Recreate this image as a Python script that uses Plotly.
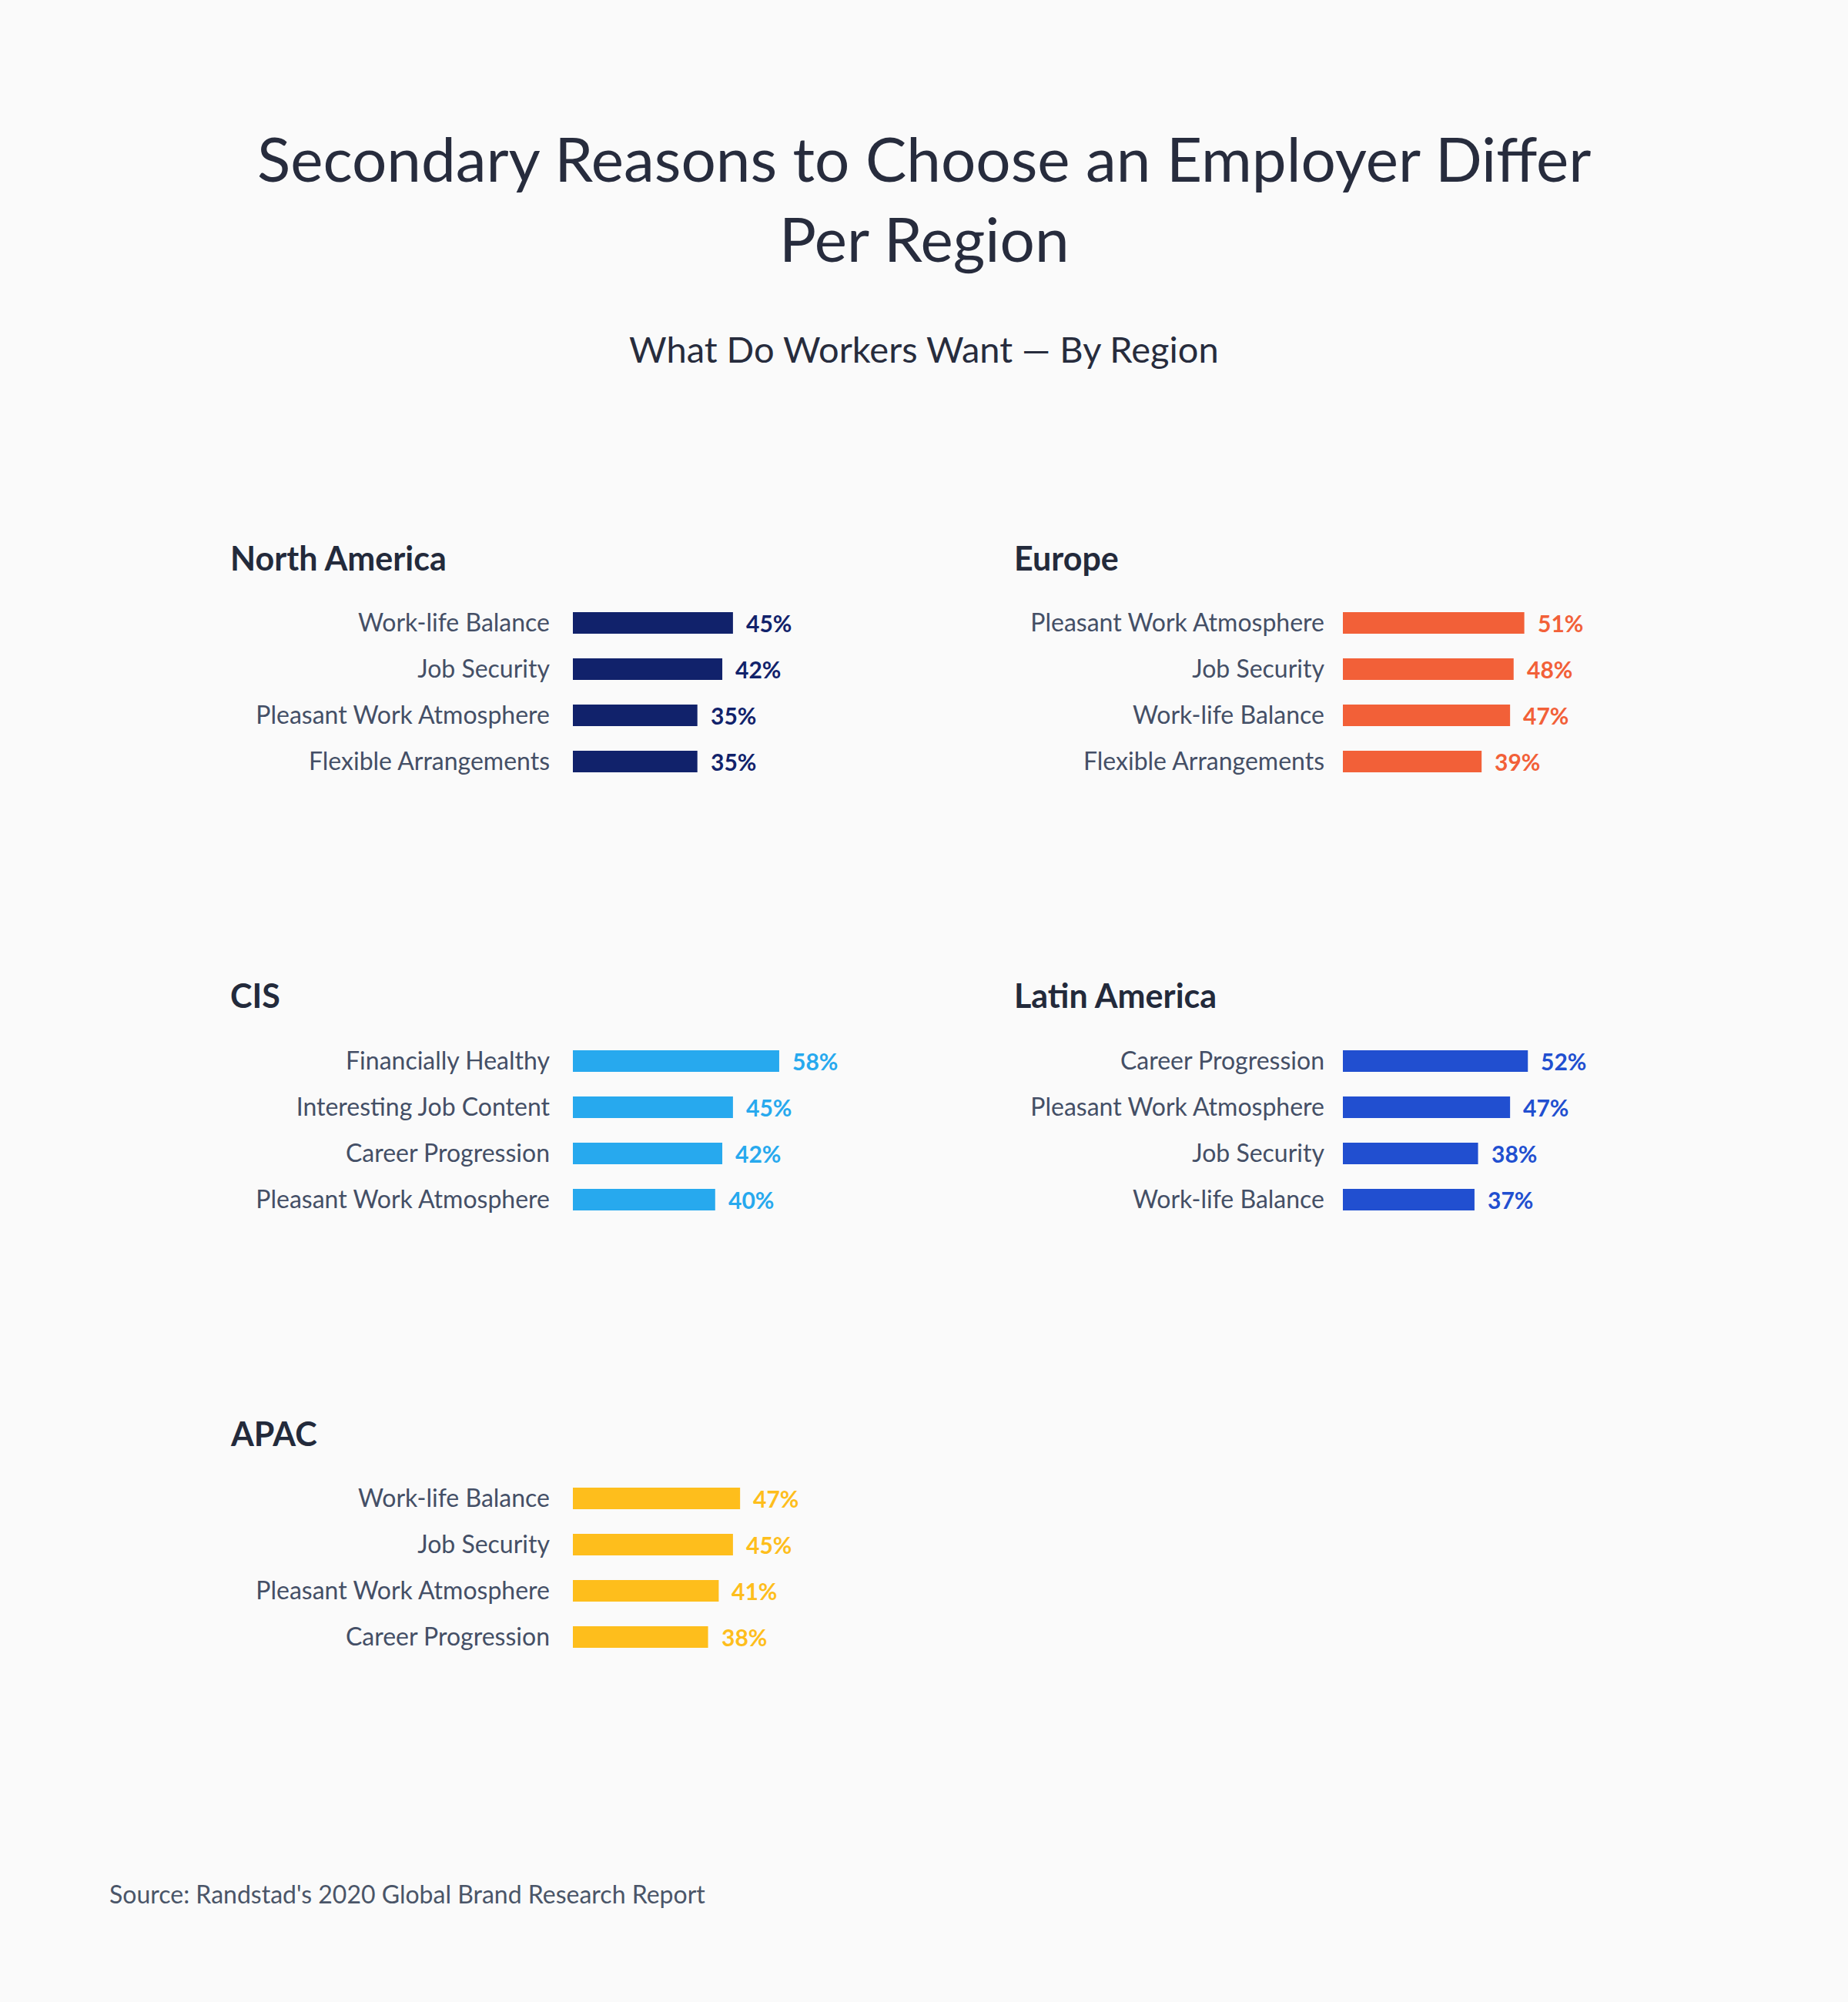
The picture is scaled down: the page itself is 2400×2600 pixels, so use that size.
import plotly.graph_objects as go

# ---------------- data ----------------
regions = ["North America", "Europe", "CIS", "Latin America", "APAC"]

na_labels = ["Work-life Balance", "Job Security", "Pleasant Work Atmosphere", "Flexible Arrangements"]
na_values = [45, 42, 35, 35]

eu_labels = ["Pleasant Work Atmosphere", "Job Security", "Work-life Balance", "Flexible Arrangements"]
eu_values = [51, 48, 47, 39]

cis_labels = ["Financially Healthy", "Interesting Job Content", "Career Progression", "Pleasant Work Atmosphere"]
cis_values = [58, 45, 42, 40]

la_labels = ["Career Progression", "Pleasant Work Atmosphere", "Job Security", "Work-life Balance"]
la_values = [52, 47, 38, 37]

apac_labels = ["Work-life Balance", "Job Security", "Pleasant Work Atmosphere", "Career Progression"]
apac_values = [47, 45, 41, 38]

colors = ["#11226b", "#f26038", "#27a9ee", "#214fd0", "#febe1c"]

title_text = "Secondary Reasons to Choose an Employer Differ<br>Per Region"
subtitle_text = "What Do Workers Want \u2014 By Region"
source_text = "Source: Randstad's 2020 Global Brand Research Report"

# ---------------- layout helpers ----------------
W, H = 2400, 2600
FONT = "Lato"
PX_PER_PCT = 4.62
XMAX = 70

def px(x):
    return x / W

def py(y):
    return 1 - y / H

panels = [
    # (labels, values, bar_left_px, top_px, title_x_px, label_standoff)
    (na_labels, na_values, 744, 779, 297, 29),
    (eu_labels, eu_values, 1744, 779, 1315, 23),
    (cis_labels, cis_values, 744, 1348, 297, 29),
    (la_labels, la_values, 1744, 1348, 1315, 23),
    (apac_labels, apac_values, 744, 1916, 297, 29),
]

fig = go.Figure()
annotations = []
ROW = 60

for i, (labels, values, left, top, tx, standoff) in enumerate(panels):
    n = i + 1
    xa = "x" if n == 1 else f"x{n}"
    ya = "y" if n == 1 else f"y{n}"
    xkey = "xaxis" if n == 1 else f"xaxis{n}"
    ykey = "yaxis" if n == 1 else f"yaxis{n}"
    col = colors[i]
    fig.add_trace(go.Bar(
        x=values, y=labels, orientation="h", marker=dict(color=col, line=dict(width=0)),
        width=0.47, xaxis=xa, yaxis=ya, hoverinfo="skip", showlegend=False,
    ))
    right = left + XMAX * PX_PER_PCT
    bottom = top + ROW * len(labels)
    fig.update_layout({
        xkey: dict(domain=[px(left), px(right)], range=[0, XMAX], visible=False,
                   anchor=ya, fixedrange=True),
        ykey: dict(domain=[py(bottom), py(top)], type="category",
                   categoryorder="array", categoryarray=labels,
                   autorange="reversed", anchor=xa, showgrid=False, zeroline=False,
                   showline=False, ticks="", ticklabelstandoff=standoff,
                   tickfont=dict(family=FONT, size=32, color="#444f66")),
    })
    for lab, v in zip(labels, values):
        annotations.append(dict(
            x=v, y=lab, xref=xa, yref=ya, text=f"<b>{v}%</b>", showarrow=False,
            xanchor="left", yanchor="middle", xshift=15,
            font=dict(family=FONT, size=30, color=col),
        ))
    annotations.append(dict(
        x=px(tx), y=py(top - 55), xref="paper", yref="paper", text=f"<b>{regions[i]}</b>",
        showarrow=False, xanchor="left", yanchor="middle",
        font=dict(family=FONT, size=43, color="#232a3b"),
    ))

annotations.append(dict(
    x=0.5, y=py(257), xref="paper", yref="paper", text=title_text, showarrow=False,
    xanchor="center", yanchor="middle",
    font=dict(family=FONT, size=80, color="#272c3d"),
))
annotations.append(dict(
    x=0.5, y=py(453), xref="paper", yref="paper", text=subtitle_text, showarrow=False,
    xanchor="center", yanchor="middle",
    font=dict(family=FONT, size=47, color="#272c3d"),
))
annotations.append(dict(
    x=px(140), y=py(2459), xref="paper", yref="paper", text=source_text, showarrow=False,
    xanchor="left", yanchor="middle",
    font=dict(family=FONT, size=32, color="#4a5568"),
))

fig.update_layout(
    width=W, height=H, margin=dict(l=0, r=0, t=0, b=0),
    paper_bgcolor="#fafafa", plot_bgcolor="#fafafa",
    annotations=annotations, bargap=0.5,
)

fig.write_html(
    "out.html",
    config={"displayModeBar": False, "staticPlot": True},
    post_script="document.body.style.margin='0';document.body.style.background='#fafafa';",
)
